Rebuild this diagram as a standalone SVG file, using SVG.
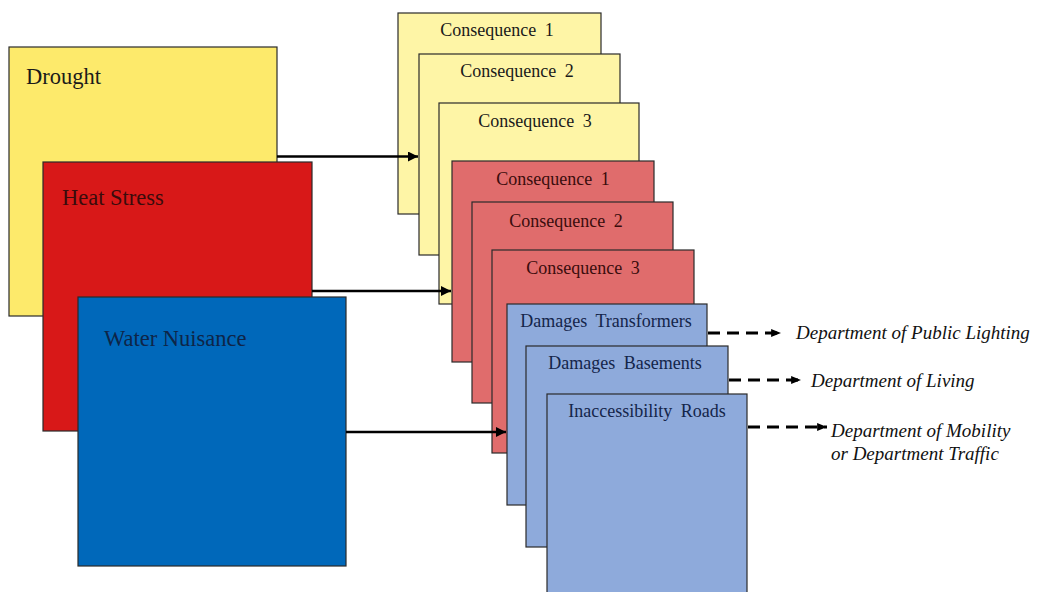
<svg xmlns="http://www.w3.org/2000/svg" width="1038" height="592" viewBox="0 0 1038 592">
<defs>
<style>
.box{stroke:#2a2a2a;stroke-width:1.2}
.big{font-family:"Liberation Serif","Times New Roman",serif;font-size:22.5px}
.cons{font-family:"Liberation Serif","Times New Roman",serif;font-size:18px;text-anchor:middle;word-spacing:4px}
.dept{font-family:"Liberation Serif","Times New Roman",serif;font-size:19px;font-style:italic;fill:#111}
.y1{fill:#fdea6b}
.r1{fill:#d81818}
.b1{fill:#0068ba}
.y2{fill:#fef5a6}
.r2{fill:#e06c6c}
.b2{fill:#8eaadb}
.solid{stroke:#000;stroke-width:2.5;fill:none}
.dash{stroke:#000;stroke-width:3;fill:none;stroke-dasharray:12 7}
</style>
<marker id="ah" viewBox="0 0 10 10" refX="10" refY="5" markerWidth="4" markerHeight="4" markerUnits="strokeWidth" orient="auto">
<path d="M0,0 L10,5 L0,10 z" fill="#000"/>
</marker>
<marker id="ahd" viewBox="0 0 10 10" refX="10" refY="5" markerWidth="3.3" markerHeight="3.3" markerUnits="strokeWidth" orient="auto">
<path d="M0,1 L10,5 L0,9 z" fill="#000"/>
</marker>
</defs>
<rect width="1038" height="592" fill="#fff"/>

<g id="drought"><rect class="box y1" x="9" y="47" width="268" height="269"/><text class="big" x="26" y="84" fill="#1a1a1a">Drought</text></g>
<g id="heat-stress"><rect class="box r1" x="43" y="162" width="269" height="269"/><text class="big" x="62" y="205" fill="#3a0c0c">Heat Stress</text></g>
<g id="water-nuisance"><rect class="box b1" x="78" y="297" width="268" height="269"/><text class="big" x="104" y="346" fill="#0e2548">Water Nuisance</text></g>

<g id="drought-c1"><rect class="box y2" x="398" y="13" width="203" height="201"/><text class="cons" x="497" y="36" fill="#1a1a1a">Consequence 1</text></g>
<g id="drought-c2"><rect class="box y2" x="419" y="54" width="201" height="201"/><text class="cons" x="517" y="77" fill="#1a1a1a">Consequence 2</text></g>
<g id="drought-c3"><rect class="box y2" x="439" y="103" width="200" height="201"/><text class="cons" x="535" y="127" fill="#1a1a1a">Consequence 3</text></g>

<g id="heat-c1"><rect class="box r2" x="452" y="161" width="202" height="201"/><text class="cons" x="553" y="185" fill="#3a0c0c">Consequence 1</text></g>
<g id="heat-c2"><rect class="box r2" x="472" y="202" width="201" height="201"/><text class="cons" x="566" y="227" fill="#3a0c0c">Consequence 2</text></g>
<g id="heat-c3"><rect class="box r2" x="492" y="250" width="202" height="203"/><text class="cons" x="583" y="274" fill="#3a0c0c">Consequence 3</text></g>

<g id="damages-transformers"><rect class="box b2" x="507" y="304" width="200" height="201"/><text class="cons" x="606" y="327" fill="#14254a">Damages Transformers</text></g>
<g id="damages-basements"><rect class="box b2" x="526" y="346" width="202" height="201"/><text class="cons" x="625" y="369" fill="#14254a">Damages Basements</text></g>
<g id="inaccessibility-roads"><rect class="box b2" x="547" y="394" width="200" height="200"/><text class="cons" x="647" y="417" fill="#14254a">Inaccessibility Roads</text></g>

<g id="departments">
<text class="dept" x="796" y="339">Department of Public Lighting</text>
<text class="dept" x="811" y="387">Department of Living</text>
<text class="dept" x="831" y="437">Department of Mobility</text>
<text class="dept" x="831" y="460">or Department Traffic</text>
</g>

<g id="connectors">
<line class="solid" x1="277" y1="156.5" x2="418" y2="156.5" marker-end="url(#ah)"/>
<line class="solid" x1="312" y1="291" x2="451" y2="291" marker-end="url(#ah)"/>
<line class="solid" x1="346" y1="432" x2="506" y2="432" marker-end="url(#ah)"/>
<line class="dash" x1="708" y1="333" x2="781" y2="333" marker-end="url(#ahd)"/>
<line class="dash" x1="729" y1="380" x2="801" y2="380" marker-end="url(#ahd)"/>
<line class="dash" x1="748" y1="427" x2="827" y2="427" marker-end="url(#ahd)"/>
</g>
</svg>
